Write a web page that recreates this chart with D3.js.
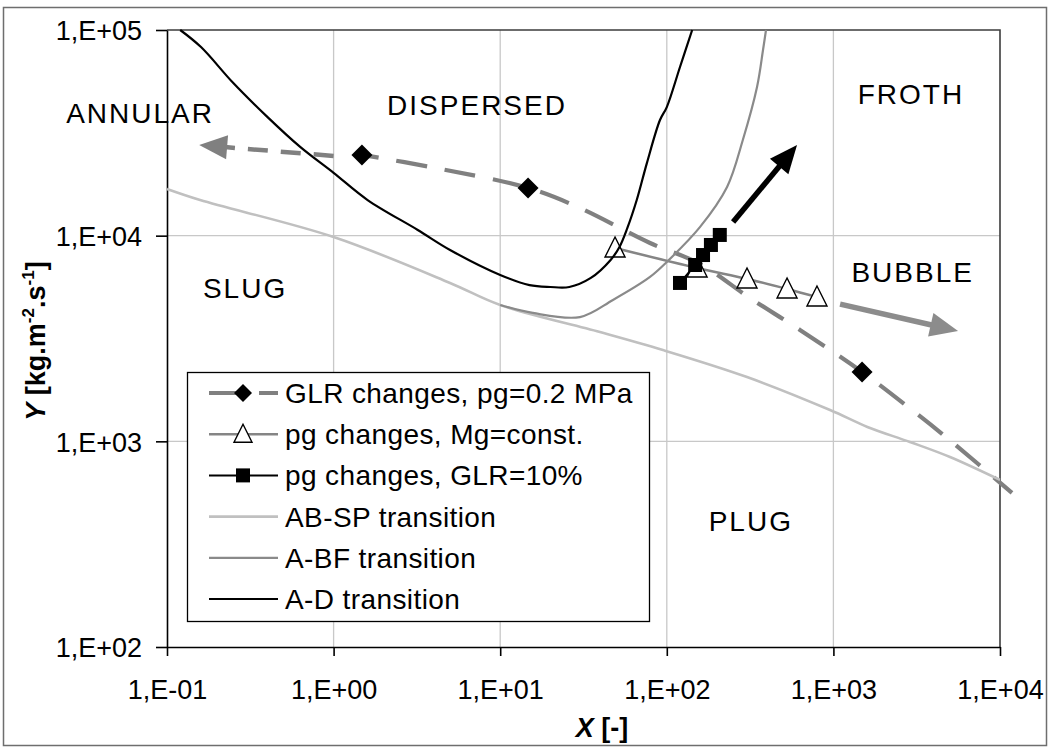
<!DOCTYPE html>
<html>
<head>
<meta charset="utf-8">
<script src="https://cdn.jsdelivr.net/npm/d3@7"></script>
<style>
  html, body { margin: 0; padding: 0; background: #fff; }
  svg { display: block; font-family: "Liberation Sans", Arial, sans-serif; }
</style>
</head>
<body>
<svg id="chart" width="1050" height="749"></svg>
<script>
// ---- axis decades ----
const xTicks = [1e-1, 1e0, 1e1, 1e2, 1e3, 1e4];
const yTicks = [1e2, 1e3, 1e4, 1e5];

// ---- GLR changes, pg = 0.2 MPa (dashed path and its diamond points) ----
const glrX = [1.48, 3.79, 14.7, 30.1, 79.3, 158, 315, 630, 1486, 2965, 5150, 11800];
const glrY = [24700, 21600, 17050, 13630, 9210, 7290, 4980, 3480, 2175, 1420, 993, 561];
const glrMarkX = [1.48, 14.7, 1486];
const glrMarkY = [24700, 17050, 2175];

// ---- pg changes, Mg = const. ----
const mgX = [48.9, 152, 303, 527, 797];
const mgY = [8710, 6960, 6160, 5505, 5030];

// ---- pg changes, GLR = 10 % ----
const g10X = [120, 148, 165, 184, 208];
const g10Y = [5890, 7200, 8050, 9010, 10080];

// ---- AB-SP transition ----
const abspX = [0.1, 0.158, 1.0, 5.0, 10, 39.7, 94.8, 303, 955, 1600, 2880, 5010, 10000];
const abspY = [16860, 14900, 9850, 5890, 4600, 3400, 2780, 2055, 1420, 1175, 993, 839, 649];

// ---- A-BF transition ----
const abfX = [10, 15.7, 30.1, 47.5, 79.3, 100, 158, 230, 286, 348, 378, 394];
const abfY = [4600, 4210, 4020, 4870, 6300, 7450, 11000, 17250, 29200, 52800, 79900, 100000];

// ---- A-D transition ----
const adX = [0.12, 0.16, 0.25, 0.4, 0.63, 1.0, 1.6, 3.2, 5.0, 10, 15, 20, 26, 35, 46, 52, 58, 66, 76, 91, 100, 120, 142];
const adY = [100000, 82600, 55200, 37800, 27000, 20200, 14900, 10660, 8520, 6440, 5750, 5630, 5630, 6230, 7620, 8810, 10900, 14900, 22600, 36500, 42200, 66100, 100000];

// ---- direction arrows: [from x, from y, to x, to y] ----
const arrowGlr = [1.0, 24400, 0.156, 27600];
const arrowMg = [1097, 4650, 5600, 3440];
const arrowG10 = [250, 11650, 605, 27600];

// ---- flow regime names ----
const regimeNames = ["ANNULAR", "DISPERSED", "FROTH", "BUBBLE", "SLUG", "PLUG"];
const regimeX = [0.068, 7.16, 2880, 2950, 0.29, 315];
const regimeY = [35300, 38600, 43600, 5960, 4980, 366];

// ---- legend entries ----
const legendNames = [
  "GLR changes, pg=0.2 MPa",
  "pg changes, Mg=const.",
  "pg changes, GLR=10%",
  "AB-SP transition",
  "A-BF transition",
  "A-D transition"
];

// ================= drawing =================
const svg = d3.select("#chart");
const plot = { left: 167, right: 1000, top: 30, bottom: 647 };
const x = d3.scaleLog().domain([1e-1, 1e4]).range([plot.left, plot.right]);
const y = d3.scaleLog().domain([1e2, 1e5]).range([plot.bottom, plot.top]);

const zip = (xs, ys) => xs.map((v, i) => [v, ys[i]]);
const line = d3.line().x(d => x(d[0])).y(d => y(d[1]));
const smooth = d3.line().x(d => x(d[0])).y(d => y(d[1])).curve(d3.curveCatmullRom.alpha(0.5));

const FONT = 27;
const fmt = d => {
  const e = Math.round(Math.log10(d));
  return "1,E" + (e < 0 ? "-" : "+") + String(Math.abs(e)).padStart(2, "0");
};

// chart frame
svg.append("rect")
  .attr("x", 3.5).attr("y", 7.5).attr("width", 1043).attr("height", 738)
  .attr("fill", "#fff").attr("stroke", "#6e6e6e").attr("stroke-width", 1.5);

// grid lines
const grid = svg.append("g").attr("stroke", "#c8c8c8").attr("stroke-width", 1.3);
grid.selectAll("line.v").data(xTicks.slice(1, -1)).join("line").attr("class", "v")
  .attr("x1", d => x(d)).attr("x2", d => x(d))
  .attr("y1", plot.top).attr("y2", plot.bottom);
grid.selectAll("line.h").data(yTicks.slice(1, -1)).join("line").attr("class", "h")
  .attr("x1", plot.left).attr("x2", plot.right)
  .attr("y1", d => y(d)).attr("y2", d => y(d));

// plot-area border (top and right)
svg.append("path")
  .attr("d", `M${plot.left},${plot.top}H${plot.right}V${plot.bottom}`)
  .attr("fill", "none").attr("stroke", "#3c3c3c").attr("stroke-width", 1.6);

// axes
const yAxis = svg.append("g").attr("transform", `translate(${plot.left},0)`)
  .call(d3.axisLeft(y).tickValues(yTicks).tickSize(11).tickSizeOuter(0).tickPadding(14).tickFormat(fmt));
const xAxis = svg.append("g").attr("transform", `translate(0,${plot.bottom})`)
  .call(d3.axisBottom(x).tickValues(xTicks).tickSize(9).tickSizeOuter(0).tickFormat(fmt));
[yAxis, xAxis].forEach(g => {
  g.select(".domain").attr("stroke", "#000").attr("stroke-width", 1.6);
  g.selectAll(".tick line").attr("stroke", "#000").attr("stroke-width", 1.6);
  g.selectAll(".tick text").attr("fill", "#000").attr("font-size", FONT)
    .attr("font-family", "'Liberation Sans', Arial, sans-serif");
});
yAxis.selectAll(".tick text").attr("dy", "0.36em");
xAxis.selectAll(".tick text").attr("y", 52).attr("dy", 0);

// axis titles
const xt = svg.append("text").attr("x", 602).attr("y", 737).attr("text-anchor", "middle")
  .attr("font-size", FONT).attr("font-weight", "bold");
xt.append("tspan").attr("font-style", "italic").text("X");
xt.append("tspan").text(" [-]");

const yt = svg.append("text").attr("transform", "translate(45,341) rotate(-90)")
  .attr("text-anchor", "middle").attr("font-size", FONT).attr("font-weight", "bold");
yt.append("tspan").attr("font-style", "italic").text("Y");
yt.append("tspan").text(" [kg.m");
yt.append("tspan").attr("font-size", 17).attr("dy", -11).text("-2");
yt.append("tspan").attr("dy", 11).text(".s");
yt.append("tspan").attr("font-size", 17).attr("dy", -11).text("-1");
yt.append("tspan").attr("dy", 11).text("]");

// ---- marker shapes ----
function diamond(g, cx, cy, r) {
  g.append("path").attr("d", `M${cx},${cy - r}L${cx + r},${cy}L${cx},${cy + r}L${cx - r},${cy}Z`)
    .attr("fill", "#000");
}
function triangle(g, cx, cy, s) {
  g.append("path")
    .attr("d", `M${cx},${cy - s * 0.55}L${cx + s * 0.5},${cy + s * 0.45}L${cx - s * 0.5},${cy + s * 0.45}Z`)
    .attr("fill", "#fff").attr("stroke", "#000").attr("stroke-width", 1.4);
}
function square(g, cx, cy, s) {
  g.append("rect").attr("x", cx - s / 2).attr("y", cy - s / 2).attr("width", s).attr("height", s)
    .attr("fill", "#000");
}

const series = svg.append("g");

// GLR changes
series.append("path").attr("d", smooth(zip(glrX, glrY)))
  .attr("fill", "none").attr("stroke", "#808080").attr("stroke-width", 4.2)
  .attr("stroke-dasharray", "31,18").attr("stroke-dashoffset", 14);
zip(glrMarkX, glrMarkY).forEach(d => diamond(series, x(d[0]), y(d[1]), 10.5));

// pg changes, Mg=const
series.append("path").attr("d", smooth(zip(mgX, mgY)))
  .attr("fill", "none").attr("stroke", "#858585").attr("stroke-width", 2.5);
zip(mgX, mgY).forEach(d => triangle(series, x(d[0]), y(d[1]), 20));

// pg changes, GLR=10%
series.append("path").attr("d", line(zip(g10X, g10Y)))
  .attr("fill", "none").attr("stroke", "#000").attr("stroke-width", 2);
zip(g10X, g10Y).forEach(d => square(series, x(d[0]), y(d[1]), 14));

// transitions
series.append("path").attr("d", smooth(zip(abspX, abspY)))
  .attr("fill", "none").attr("stroke", "#c0c0c0").attr("stroke-width", 2.6);
series.append("path").attr("d", smooth(zip(abfX, abfY)))
  .attr("fill", "none").attr("stroke", "#8a8a8a").attr("stroke-width", 2.2);
series.append("path").attr("d", smooth(zip(adX, adY)))
  .attr("fill", "none").attr("stroke", "#000").attr("stroke-width", 2.2);

// ---- arrows ----
function arrow(a, color, width, dash) {
  const x0 = x(a[0]), y0 = y(a[1]), x1 = x(a[2]), y1 = y(a[3]);
  const ang = Math.atan2(y1 - y0, x1 - x0);
  const L = 28, Hw = 12;
  const bx = x1 - L * Math.cos(ang), by = y1 - L * Math.sin(ang);
  const sh = svg.append("line").attr("x1", x0).attr("y1", y0)
    .attr("x2", bx + 2 * Math.cos(ang)).attr("y2", by + 2 * Math.sin(ang))
    .attr("stroke", color).attr("stroke-width", width);
  if (dash) sh.attr("stroke-dasharray", dash);
  const nx = -Math.sin(ang), ny = Math.cos(ang);
  svg.append("path")
    .attr("d", `M${x1},${y1}L${bx + nx * Hw},${by + ny * Hw}L${bx - nx * Hw},${by - ny * Hw}Z`)
    .attr("fill", color);
}
arrow(arrowGlr, "#808080", 4.5, "20,13");
arrow(arrowMg, "#8c8c8c", 5.5, null);
arrow(arrowG10, "#000", 5.5, null);

// ---- regime names ----
svg.append("g").selectAll("text").data(regimeNames).join("text")
  .attr("x", (d, i) => x(regimeX[i]) + 1).attr("y", (d, i) => y(regimeY[i]))
  .attr("text-anchor", "middle").attr("font-size", 28).attr("letter-spacing", 2)
  .attr("fill", "#000").text(d => d);

// ---- legend ----
const lg = svg.append("g");
lg.append("rect").attr("x", 187.5).attr("y", 372.5).attr("width", 462).attr("height", 249)
  .attr("fill", "#fff").attr("stroke", "#000").attr("stroke-width", 1.3);
const rowY = i => 393 + i * 41.2;
const sx0 = 209, sx1 = 278, mx = 243;
legendNames.forEach((name, i) => {
  const yc = rowY(i);
  const seg = lg.append("line").attr("x1", sx0).attr("x2", sx1).attr("y1", yc).attr("y2", yc);
  if (i === 0) {
    seg.attr("stroke", "#808080").attr("stroke-width", 4.2).attr("stroke-dasharray", "30,20");
    diamond(lg, mx, yc, 9);
  } else if (i === 1) {
    seg.attr("stroke", "#858585").attr("stroke-width", 2.5);
    triangle(lg, mx, yc, 18);
  } else if (i === 2) {
    seg.attr("stroke", "#000").attr("stroke-width", 2);
    square(lg, mx, yc, 14);
  } else if (i === 3) {
    seg.attr("stroke", "#c0c0c0").attr("stroke-width", 2.6);
  } else if (i === 4) {
    seg.attr("stroke", "#8a8a8a").attr("stroke-width", 2.2);
  } else {
    seg.attr("stroke", "#000").attr("stroke-width", 2.2);
  }
  lg.append("text").attr("x", 285).attr("y", yc + 10).attr("font-size", 28)
    .attr("letter-spacing", 0.4).attr("fill", "#000").text(name);
});
</script>
</body>
</html>
